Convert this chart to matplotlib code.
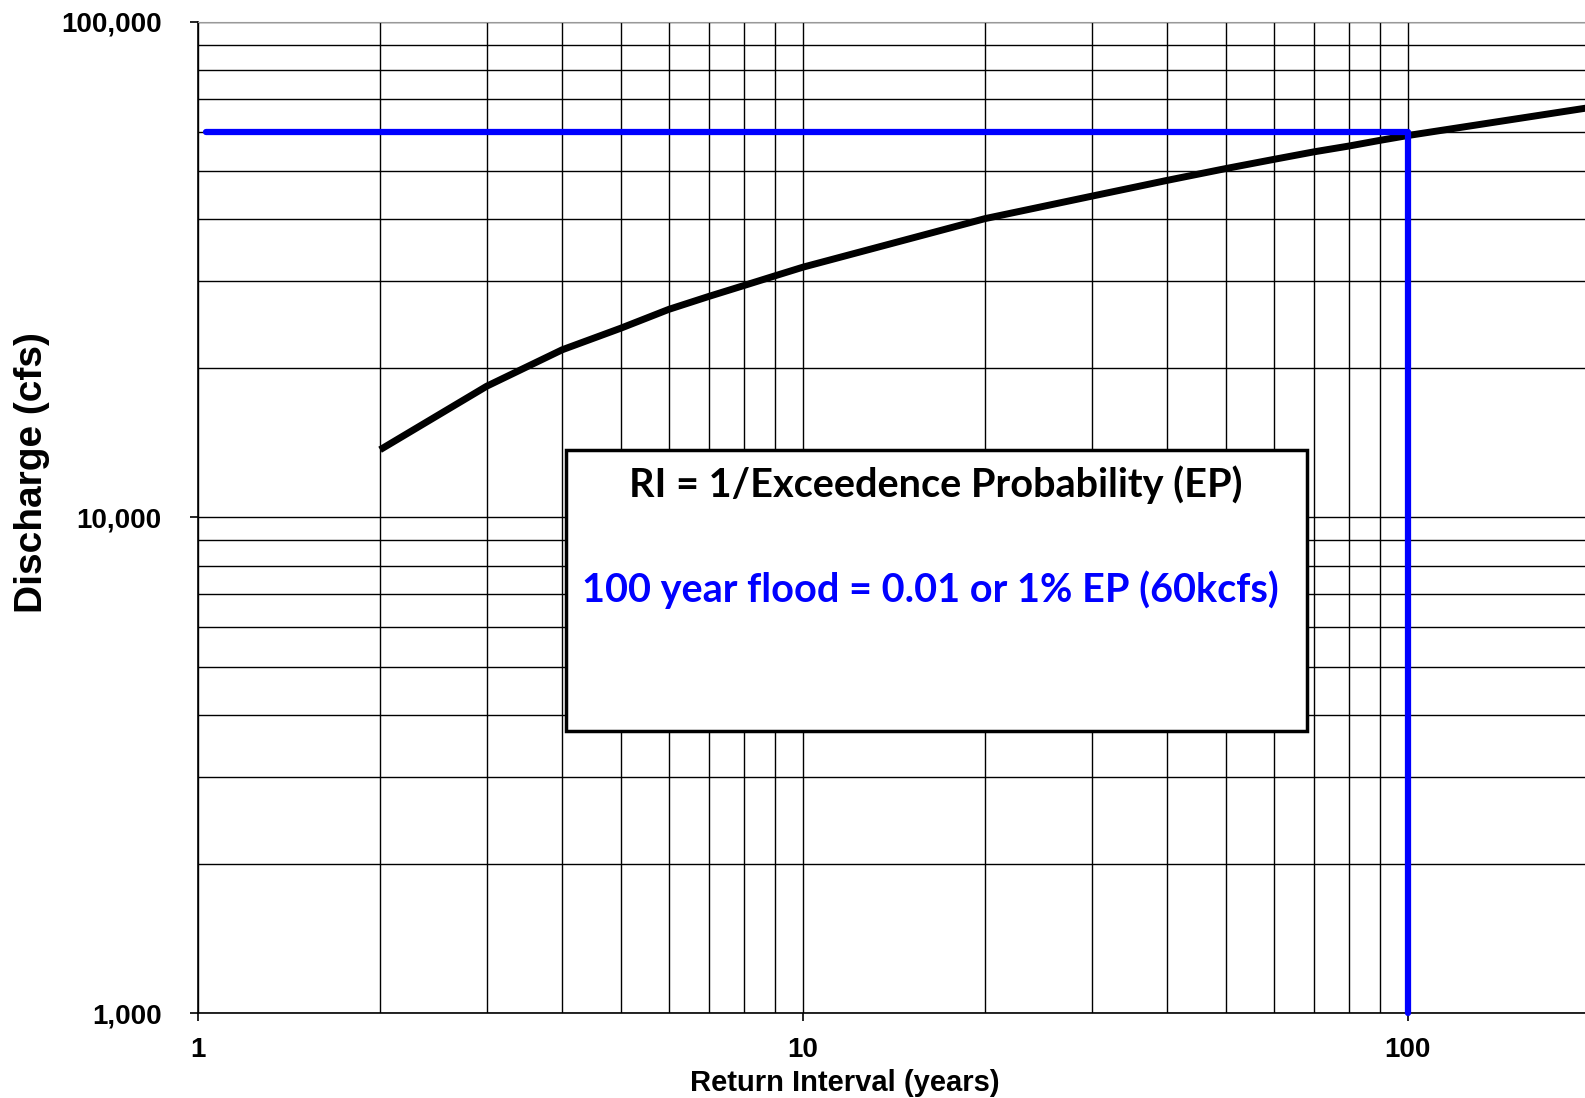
import matplotlib.pyplot as plt
import numpy as np
from matplotlib.patches import Rectangle
from matplotlib.ticker import FixedLocator, NullFormatter

# return interval (years) vs discharge (cfs)
return_interval = [2, 3, 4, 5, 6, 7, 8, 9, 10, 20, 30, 40, 50, 60, 70, 80, 90, 100, 200]
discharge = [13700, 18400, 21800, 24100, 26300, 27950, 29400, 30750, 32000,
             40100, 44500, 47900, 50600, 52800, 54700, 56200, 57700, 59000, 67200]

# 100 year flood marker
flood_ri = 100
flood_q = 60000
marker_start_ri = 1.03

x_ticks = [1, 10, 100]
x_tick_labels = ["1", "10", "100"]
y_ticks = [1000, 10000, 100000]
y_tick_labels = ["1,000", "10,000", "100,000"]

box_title = "RI = 1/Exceedence Probability (EP)"
box_note = "100 year flood = 0.01 or 1% EP (60kcfs)"

plt.rcParams['font.family'] = ['Liberation Sans', 'DejaVu Sans']

fig = plt.figure(figsize=(15.85, 10.98), dpi=100)
ax = fig.add_axes([0.1249, 0.0774, 0.8751, 0.9026])

ax.set_xscale('log')
ax.set_yscale('log')
ax.set_xlim(1, 196.2)
ax.set_ylim(1000, 100000)

# full log grid (major + minor) in black
minor_x = [m * d for d in [1, 10, 100] for m in range(2, 10)]
minor_y = [m * d for d in [1000, 10000] for m in range(2, 10)]
ax.xaxis.set_minor_locator(FixedLocator(minor_x))
ax.yaxis.set_minor_locator(FixedLocator(minor_y))
ax.xaxis.set_minor_formatter(NullFormatter())
ax.yaxis.set_minor_formatter(NullFormatter())
ax.set_xticks(x_ticks)
ax.set_xticklabels(x_tick_labels)
ax.set_yticks(y_ticks)
ax.set_yticklabels(y_tick_labels)
ax.grid(which='both', color='black', linewidth=1.0)
ax.tick_params(which='major', length=6, width=1.2, color='black', labelsize=20)
ax.tick_params(axis='y', which='major', pad=20)
ax.tick_params(axis='x', which='major', pad=11)
ax.tick_params(which='minor', length=0)
for lbl in ax.get_xticklabels() + ax.get_yticklabels():
    lbl.set_fontweight('bold')

ax.spines['right'].set_visible(False)
ax.spines['top'].set_color('#999999')
ax.spines['left'].set_linewidth(1.2)
ax.spines['bottom'].set_linewidth(1.2)

ax.plot(return_interval, discharge, color='black', linewidth=5,
        solid_capstyle='butt', solid_joinstyle='round', zorder=3)

ax.plot([marker_start_ri, flood_ri, flood_ri], [flood_q, flood_q, 1000],
        color='#0000ff', linewidth=4.5, solid_joinstyle='round',
        solid_capstyle='round', zorder=4, clip_on=False)

ax.set_xlabel("Return Interval (years)", fontsize=21, fontweight='bold')
ax.xaxis.set_label_coords(0.4665, -0.056)
ax.set_ylabel("Discharge (cfs)", fontsize=28, fontweight='bold')
ax.yaxis.set_label_coords(-0.107, 0.545)

# annotation box
box = Rectangle((566 / 1585, 1 - 731 / 1098), (1307 - 566) / 1585, (731 - 450) / 1098,
                transform=fig.transFigure, facecolor='white', edgecolor='black',
                linewidth=2.5, zorder=5)
fig.patches.append(box)
fig.text(936 / 1585, 1 - 485 / 1098, box_title, ha='center', va='center',
         fontsize=28.5, fontweight='bold', family=['Lato', 'DejaVu Sans'], color='black', zorder=6)
fig.text(930 / 1585, 1 - 590 / 1098, box_note, ha='center', va='center',
         fontsize=28.5, fontweight='bold', family=['Lato', 'DejaVu Sans'], color='#0000ff', zorder=6)

fig.savefig("out.png", dpi=100)
